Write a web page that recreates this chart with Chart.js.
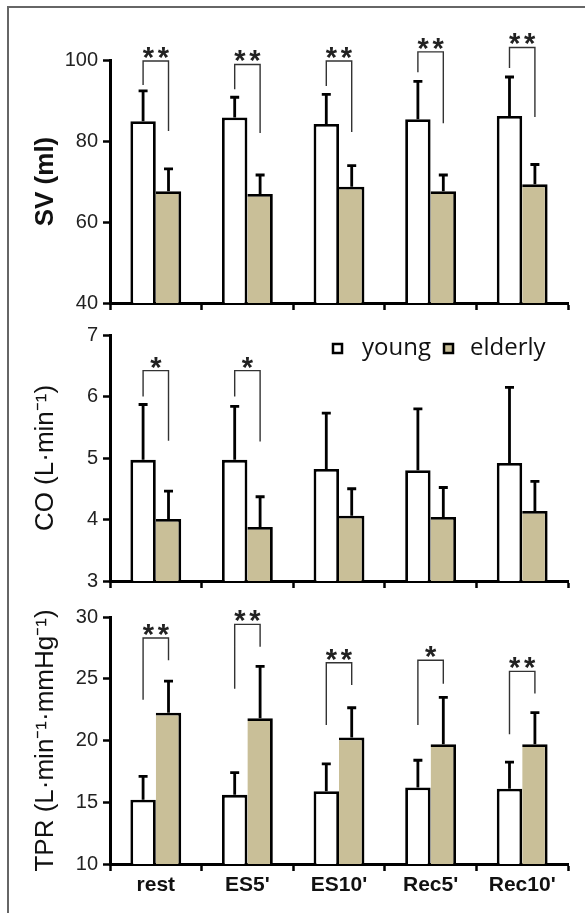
<!DOCTYPE html>
<html>
<head>
<meta charset="utf-8">
<script src="https://cdn.jsdelivr.net/npm/chart.js@4.4.1/dist/chart.umd.min.js"></script>
<style>
body{margin:0;background:#fff;width:585px;height:913px;overflow:hidden;position:relative;}
#frame{position:absolute;left:7px;top:6px;width:700px;height:1000px;border-left:2px solid #666;border-top:2px solid #666;}
canvas{position:absolute;left:0;}
</style>
</head>
<body>
<div id="frame"></div>
<canvas id="sv" width="585" height="330" style="top:0px"></canvas>
<canvas id="co" width="585" height="300" style="top:310px"></canvas>
<canvas id="tpr" width="585" height="313" style="top:600px"></canvas>
<script>
var categories = ["rest", "ES5'", "ES10'", "Rec5'", "Rec10'"];

// stroke volume (ml)
var svYoung = [84.9, 85.8, 84.2, 85.4, 86.2];
var svYoungSD = [7.5, 5.0, 7.3, 9.3, 9.6];
var svElderly = [67.6, 66.9, 68.7, 67.6, 69.3];
var svElderlySD = [5.5, 4.7, 5.2, 4.0, 4.9];
var svSig = ["**", "**", "**", "**", "**"];
var svBracketTop = [99.75, 98.9, 99.75, 102.0, 103.1];
var svBracketLeft = [93.8, 92.8, 93.6, 97.0, 98.0];
var svBracketRight = [82.5, 82.0, 82.2, 84.4, 85.9];

// cardiac output (L/min)
var coYoung = [4.97, 4.97, 4.82, 4.80, 4.92];
var coYoungSD = [0.90, 0.87, 0.91, 1.00, 1.23];
var coElderly = [4.01, 3.88, 4.06, 4.04, 4.14];
var coElderlySD = [0.45, 0.49, 0.44, 0.48, 0.48];
var coSig = ["*", "*", "", "", ""];
var coBracketTop = [6.42, 6.42, null, null, null];
var coBracketLeft = [6.0, 6.0, null, null, null];
var coBracketRight = [5.28, 5.27, null, null, null];

// total peripheral resistance
var tprYoung = [15.2, 15.6, 15.9, 16.2, 16.1];
var tprYoungSD = [1.9, 1.8, 2.2, 2.2, 2.15];
var tprElderly = [22.25, 21.8, 20.25, 19.7, 19.7];
var tprElderlySD = [2.55, 4.2, 2.4, 3.8, 2.55];
var tprSig = ["**", "**", "**", "*", "**"];
var tprBracketTop = [28.3, 29.4, 26.3, 26.5, 25.6];
var tprBracketLeft = [23.3, 24.2, 21.25, 21.25, 20.5];
var tprBracketRight = [26.5, 27.6, 24.5, 24.6, 23.8];

var tan = "#c9bf98";

function sigPlugin(sig, top, left, right) {
	return {
		id: 'sig',
		afterDatasetsDraw: function(chart) {
			var ctx = chart.ctx;
			var y = chart.scales.y;
			// error bars (upper only)
			chart.data.datasets.forEach(function(ds, i) {
				var meta = chart.getDatasetMeta(i);
				meta.data.forEach(function(bar, j) {
					var t = y.getPixelForValue(ds.data[j] + ds.errors[j]);
					ctx.save();
					ctx.strokeStyle = "#000";
					ctx.lineWidth = 2.8;
					ctx.beginPath();
					ctx.moveTo(bar.x, bar.y);
					ctx.lineTo(bar.x, t);
					ctx.moveTo(bar.x - 4.5, t);
					ctx.lineTo(bar.x + 4.5, t);
					ctx.stroke();
					ctx.restore();
				});
			});
			// significance brackets
			var m0 = chart.getDatasetMeta(0), m1 = chart.getDatasetMeta(1);
			for (var j = 0; j < sig.length; j++) {
				if (!sig[j]) continue;
				var xl = m0.data[j].x, xr = m1.data[j].x;
				var yt = y.getPixelForValue(top[j]);
				ctx.save();
				ctx.strokeStyle = "#333";
				ctx.lineWidth = 1.4;
				ctx.beginPath();
				ctx.moveTo(xl, y.getPixelForValue(left[j]));
				ctx.lineTo(xl, yt);
				ctx.lineTo(xr, yt);
				ctx.lineTo(xr, y.getPixelForValue(right[j]));
				ctx.stroke();
				ctx.fillStyle = "#222";
				ctx.font = "bold 29px 'Liberation Sans'";
				ctx.textAlign = "center";
				ctx.textBaseline = "alphabetic";
				var n = sig[j].length, cx = (xl + xr) / 2;
				for (var k = 0; k < n; k++) {
					ctx.fillText("*", cx + (k - (n - 1) / 2) * 15, yt + 6);
				}
				ctx.restore();
			}
		}
	};
}

var legendPlugin = {
	id: 'boxLegend',
	afterDraw: function(chart) {
		var ctx = chart.ctx;
		var ds = chart.data.datasets;
		var pos = [[333, 362], [444, 470]];
		ctx.save();
		for (var i = 0; i < ds.length; i++) {
			ctx.fillStyle = ds[i].backgroundColor;
			ctx.fillRect(pos[i][0], 34, 9, 9);
			ctx.strokeStyle = "#000";
			ctx.lineWidth = 2.5;
			ctx.strokeRect(pos[i][0], 34, 9, 9);
			ctx.fillStyle = "#111";
			ctx.font = "24px 'Open Sans'";
			ctx.textBaseline = "alphabetic";
			ctx.fillText(ds[i].label, pos[i][1], 45);
		}
		ctx.restore();
	}
};

function makePanel(id, o) {
	var plugins = [sigPlugin(o.sig, o.top, o.left, o.right)];
	if (o.legend) plugins.push(legendPlugin);
	return new Chart(document.getElementById(id), {
		type: 'bar',
		data: {
			labels: categories,
			datasets: [
				{
					label: "young",
					data: o.young,
					errors: o.youngSD,
					backgroundColor: "#ffffff",
					borderColor: "#000",
					borderWidth: {top: 2.8, left: 2.8, right: 2.8, bottom: 0},
					categoryPercentage: 0.555,
					barPercentage: 1
				},
				{
					label: "elderly",
					data: o.elderly,
					errors: o.elderlySD,
					backgroundColor: tan,
					borderColor: "#000",
					borderWidth: {top: 2.8, left: 0, right: 2.8, bottom: 0},
					categoryPercentage: 0.555,
					barPercentage: 1
				}
			]
		},
		options: {
			responsive: false,
			animation: false,
			layout: {padding: {top: o.padTop, right: 17, left: 0, bottom: 0}},
			plugins: {
				legend: {display: false},
				tooltip: {enabled: false}
			},
			scales: {
				x: {
					offset: true,
					grid: {offset: true, drawOnChartArea: false, tickLength: 7, tickWidth: 2.5, tickColor: "#000"},
					border: {color: "#000", width: 3},
					ticks: {
						display: o.showLabels,
						color: "#111",
						padding: 2,
						font: {family: "'Liberation Sans'", size: 21, weight: "bold"}
					},
					afterFit: function(s) { s.height = o.xHeight; }
				},
				y: {
					min: o.min,
					max: o.max,
					ticks: {
						stepSize: o.step,
						color: "#222",
						padding: 5,
						font: {family: "'Liberation Sans'", size: 20}
					},
					grid: {drawOnChartArea: false, tickLength: 7, tickWidth: 2.5, tickColor: "#000"},
					border: {color: "#000", width: 3},
					title: {
						display: true,
						text: o.title,
						color: "#111",
						padding: {top: 30, bottom: 0},
						font: {family: "'Liberation Sans'", size: 26, weight: o.boldTitle ? "bold" : "normal"}
					},
					afterFit: function(s) { s.width = 110; }
				}
			}
		},
		plugins: plugins
	});
}

makePanel("sv", {
	young: svYoung, youngSD: svYoungSD, elderly: svElderly, elderlySD: svElderlySD,
	sig: svSig, top: svBracketTop, left: svBracketLeft, right: svBracketRight,
	min: 40, max: 100, step: 20, title: "SV (ml)", boldTitle: true,
	padTop: 60, xHeight: 27, showLabels: false
});

makePanel("co", {
	young: coYoung, youngSD: coYoungSD, elderly: coElderly, elderlySD: coElderlySD,
	sig: coSig, top: coBracketTop, left: coBracketLeft, right: coBracketRight,
	min: 3, max: 7, step: 1, title: "CO (L\u00b7min\u207b\u00b9)", boldTitle: false,
	padTop: 25, xHeight: 29, showLabels: false, legend: true
});

makePanel("tpr", {
	young: tprYoung, youngSD: tprYoungSD, elderly: tprElderly, elderlySD: tprElderlySD,
	sig: tprSig, top: tprBracketTop, left: tprBracketLeft, right: tprBracketRight,
	min: 10, max: 30, step: 5, title: "TPR (L\u00b7min\u207b\u00b9\u00b7mmHg\u207b\u00b9)", boldTitle: false,
	padTop: 15, xHeight: 49, showLabels: true
});
</script>
</body>
</html>
